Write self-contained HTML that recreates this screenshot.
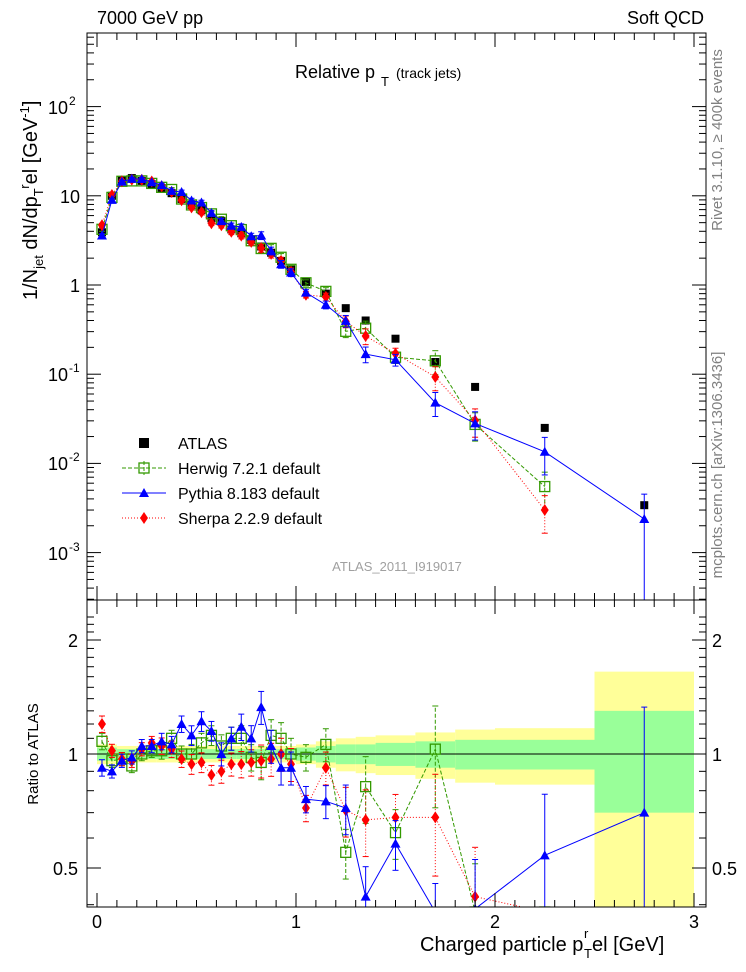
<!DOCTYPE html>
<html><head><meta charset="utf-8"><style>
html,body{margin:0;background:#fff;overflow:hidden;width:746px;height:972px;}
svg{display:block;font-family:"Liberation Sans",sans-serif;}
</style></head><body>
<svg id="c" width="746" height="972" xmlns="http://www.w3.org/2000/svg"></svg>
<script>
const xCenters=[0.025,0.075,0.125,0.175,0.225,0.275,0.325,0.375,0.425,0.475,0.525,0.575,0.625,0.675,0.725,0.775,0.825,0.875,0.925,0.975,1.05,1.15,1.25,1.35,1.5,1.7,1.9,2.25,2.75];
const atlas=[3.9,10,15,15.8,14.7,13.5,12.2,10.7,9.2,7.9,6.9,5.6,5.2,4.2,3.8,3.2,2.7,2.3,1.86,1.5,1.08,0.8,0.55,0.40,0.25,0.137,0.072,0.025,0.0034];
const herwigRatio=[1.08,0.96,0.97,0.93,1.0,1.02,1.02,1.1,1.0,1.0,1.07,1.12,1.05,1.1,1.1,0.98,0.95,1.12,1.1,1.0,0.98,1.06,0.55,0.82,0.62,1.03,0.38,0.22,null];
const pythiaRatio=[0.92,0.9,0.96,0.98,1.05,1.05,1.08,1.06,1.2,1.12,1.22,1.15,1.0,1.1,1.18,1.1,1.33,1.05,0.92,0.92,0.76,0.75,0.72,0.42,0.58,0.35,0.39,0.54,0.7];
const sherpaRatio=[1.2,1.02,0.97,0.96,1.03,1.07,1.05,1.03,0.97,0.94,0.95,0.88,0.9,0.94,0.94,0.95,0.96,0.97,1.0,0.94,0.72,0.92,0.71,0.67,0.68,0.68,0.42,0.12,null];
const mcErr=[0.05,0.04,0.04,0.04,0.04,0.04,0.05,0.05,0.05,0.06,0.06,0.06,0.07,0.07,0.08,0.08,0.1,0.1,0.1,0.1,0.08,0.1,0.15,0.2,0.15,0.3,0.35,0.45,0.9];
const bandEdges=[0,0.1,0.2,0.3,0.4,0.5,0.6,0.7,0.8,0.9,1.0,1.1,1.2,1.3,1.4,1.6,1.8,2.0,2.5,3.0];
const bandGreen=[0.04,0.03,0.03,0.03,0.03,0.03,0.03,0.03,0.03,0.03,0.04,0.05,0.06,0.06,0.07,0.08,0.09,0.09,0.30];
const bandYellow=[0.06,0.05,0.05,0.05,0.05,0.05,0.05,0.05,0.05,0.05,0.06,0.08,0.10,0.11,0.12,0.14,0.16,0.17,0.65];
const yTopTicks=[["10","2",107],["10","",196],["1","",285],["10","-1",374],["10","-2",463],["10","-3",553]];

const NS="http://www.w3.org/2000/svg",svg=document.getElementById('c');
const L=87,R=706,T1=33,B1=600,B2=907;
const X=v=>97+199*v;
const Y1=v=>Math.min(B1+5,Math.max(T1-5,285-89.2*Math.log10(v)));
const Y2=r=>Math.min(B2+5,Math.max(B1-5,754-378.7*Math.log10(r)));
function el(t,a,p){const e=document.createElementNS(NS,t);for(const k in a)e.setAttribute(k,a[k]);(p||svg).appendChild(e);return e;}
function txt(s,x,y,size,anchor,fill,name){const e=el('text',{x:x,y:y,'font-size':size,'text-anchor':anchor||'start',fill:fill||'#000'});e.textContent=s;

return e;}
const defs=el('defs',{});
const c1=el('clipPath',{id:'cp1'},defs);el('rect',{x:L,y:T1,width:R-L,height:B1-T1},c1);
const c2=el('clipPath',{id:'cp2'},defs);el('rect',{x:L,y:B1,width:R-L,height:B2-B1},c2);
const g1=el('g',{'clip-path':'url(#cp1)'});


const g2=el('g',{'clip-path':'url(#cp2)'});


for(let i=0;i<bandGreen.length;i++){
 const x0=X(bandEdges[i]),x1=X(bandEdges[i+1]);
 const y=el('rect',{x:x0,y:Y2(1+bandYellow[i]),width:x1-x0,height:Y2(1-bandYellow[i])-Y2(1+bandYellow[i]),fill:'#ffff99'},g2);
 
 
 const g=el('rect',{x:x0,y:Y2(1+bandGreen[i]),width:x1-x0,height:Y2(1-bandGreen[i])-Y2(1+bandGreen[i]),fill:'#99ff99'},g2);
 
 
}
el('line',{x1:L,x2:R,y1:Y2(1),y2:Y2(1),stroke:'#000','stroke-width':1},g2);
xCenters.forEach((x,i)=>{const s=8;const r=el('rect',{x:X(x)-s/2,y:Y1(atlas[i])-s/2,width:s,height:s,fill:'#000'},g1);

});
function series(rat,color,dash,marker,name){
 [[g1,true],[g2,false]].forEach(([g,main])=>{
  const pts=[];
  xCenters.forEach((x,i)=>{if(rat[i]==null)return;const v=main?atlas[i]*rat[i]:rat[i];const yy=main?Y1(v):Y2(v);pts.push([X(x),yy,i,v]);});
  const pl=el('polyline',{points:pts.map(p=>p[0]+','+p[1]).join(' '),fill:'none',stroke:color,'stroke-width':1,'stroke-dasharray':dash},g);
  
  
  pts.forEach(p=>{const e=mcErr[p[2]];const f=main?Y1:Y2;
   const lo=Math.max(p[3]*(1-e),1e-6),hi=p[3]*(1+e);
   el('line',{x1:p[0],x2:p[0],y1:f(lo),y2:f(hi),stroke:color,'stroke-width':1,'stroke-dasharray':dash},g);
   el('line',{x1:p[0]-3,x2:p[0]+3,y1:f(hi),y2:f(hi),stroke:color},g);
   el('line',{x1:p[0]-3,x2:p[0]+3,y1:f(lo),y2:f(lo),stroke:color},g);
   const m=marker(p[0],p[1],g);
   
   
  });
 });
}
const sq=(x,y,g)=>el('rect',{x:x-5,y:y-5,width:10,height:10,fill:'none',stroke:'#339900','stroke-width':1.3},g);
const tri=(x,y,g)=>el('polygon',{points:`${x},${y-5} ${x-5},${y+4} ${x+5},${y+4}`,fill:'#0000ff'},g);
const dia=(x,y,g)=>el('polygon',{points:`${x},${y-6} ${x+4},${y} ${x},${y+6} ${x-4},${y}`,fill:'#ff0000'},g);
series(herwigRatio,'#339900','4,2',sq,'herwig');
series(sherpaRatio,'#ff0000','1,2',dia,'sherpa');
series(pythiaRatio,'#0000ff','',tri,'pythia');
el('rect',{x:L,y:T1,width:R-L,height:B1-T1,fill:'none',stroke:'#000'});
el('rect',{x:L,y:B1,width:R-L,height:B2-B1,fill:'none',stroke:'#000'});
for(let v=0;v<=3.0001;v+=0.1){const x=X(v);const maj=Math.abs(v-Math.round(v))<1e-6;const h=maj?14:7;
 [[T1,1],[B1,-1],[B1,1],[B2,-1]].forEach(([y,d])=>el('line',{x1:x,x2:x,y1:y,y2:y+d*h,stroke:'#000'}));}
[0,1,2,3].forEach(v=>txt(String(v),X(v),928,18,'middle','#000','x-tick-label'));
for(let d=-4;d<=2;d++){for(let k=1;k<10;k++){const v=k*Math.pow(10,d);const y=285-89.2*Math.log10(v);if(y<T1||y>B1)continue;const h=k==1?14:7;
 el('line',{x1:L,x2:L+h,y1:y,y2:y,stroke:'#000'});el('line',{x1:R,x2:R-h,y1:y,y2:y,stroke:'#000'});}}
yTopTicks.forEach(t=>{txt(t[0],t[1]?68:80,t[2]+7,18,'end','#000','y-tick-label');
 if(t[1]){txt(t[1],69,t[2]-2,12,'start','#000','y-tick-exponent');}});
for(let r=0.4;r<=2.31;r+=0.1){const y=754-378.7*Math.log10(r);if(y<B1||y>B2)continue;const maj=[0.5,1,2].some(m=>Math.abs(m-r)<1e-6);const h=maj?14:7;
 el('line',{x1:L,x2:L+h,y1:y,y2:y,stroke:'#000'});el('line',{x1:R,x2:R-h,y1:y,y2:y,stroke:'#000'});}
[["2",2],["1",1],["0.5",0.5]].forEach(([s,r])=>{txt(s,78,Y2(r)+7,18,'end','#000','ratio-tick-label');txt(s,712,Y2(r)+7,18,'start','#000','ratio-tick-label-right');});
txt('7000 GeV pp',97,24,18,'start','#000','energy-label');
txt('Soft QCD',704,24,18,'end','#000','analysis-group');
txt('Relative p',295,78,18,'start','#000','plot-title');
txt('T',381,86,13,'start','#000','plot-title-sub');
txt('(track jets)',396,78,14,'start','#000','plot-title-suffix');
txt('ATLAS_2011_I919017',397,571,13,'middle','#a0a0a0','analysis-id');
txt('Charged particle p',420,951,20,'start','#000','x-axis-title');
txt('T',584,958,13,'start','#000','x-axis-sub');txt('r',584,938,13,'start','#000','x-axis-sup');
txt('el [GeV]',592,951,20,'start','#000','x-axis-title-end');
const yl=el('text',{transform:'translate(37,300) rotate(-90)','font-size':20});


yl.innerHTML='1/N<tspan font-size="13" dy="6">jet</tspan><tspan dy="-6"> dN/dp</tspan><tspan font-size="13" dy="6">T</tspan><tspan font-size="13" dy="-14">r</tspan><tspan dy="8">el [GeV</tspan><tspan font-size="13" dy="-8">-1</tspan><tspan dy="8">]</tspan>';
const rl=txt('Ratio to ATLAS',0,0,15,'middle','#000','ratio-axis-title');rl.setAttribute('transform','translate(38,754) rotate(-90)');
const rv=txt('Rivet 3.1.10, ≥ 400k events',0,0,15,'middle','#808080','rivet-label');rv.setAttribute('transform','translate(722,140) rotate(-90)');
const mc=txt('mcplots.cern.ch [arXiv:1306.3436]',0,0,15,'middle','#808080','mcplots-label');mc.setAttribute('transform','translate(722,465) rotate(-90)');
const lg=el('g',{});
el('rect',{x:139,y:438,width:10,height:10,fill:'#000'},lg);txt('ATLAS',178,449,16,'start','#000','legend-atlas');
el('line',{x1:122,x2:166,y1:468,y2:468,stroke:'#339900','stroke-dasharray':'4,2'},lg);el('line',{x1:144,x2:144,y1:461,y2:475,stroke:'#339900','stroke-dasharray':'4,2'},lg);sq(144,468,lg);txt('Herwig 7.2.1 default',178,474,16,'start','#000','legend-herwig');
el('line',{x1:122,x2:166,y1:493,y2:493,stroke:'#0000ff'},lg);tri(144,493,lg);txt('Pythia 8.183 default',178,499,16,'start','#000','legend-pythia');
el('line',{x1:122,x2:166,y1:518,y2:518,stroke:'#ff0000','stroke-dasharray':'1,2'},lg);dia(144,518,lg);txt('Sherpa 2.2.9 default',178,524,16,'start','#000','legend-sherpa');
</script>
</body></html>
